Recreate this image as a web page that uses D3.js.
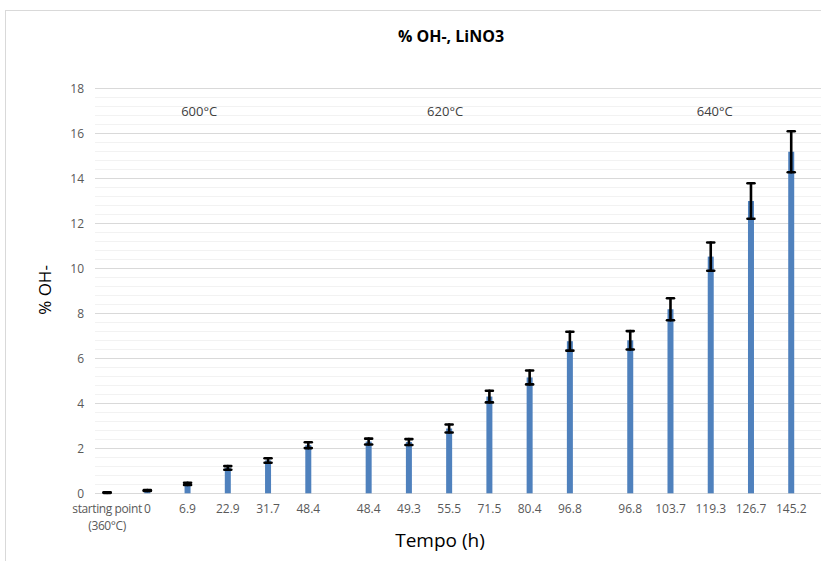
<!DOCTYPE html>
<html>
<head>
<meta charset="utf-8">
<script src="https://cdn.jsdelivr.net/npm/d3@7"></script>
<style>
  html, body { margin: 0; padding: 0; background: #fff; }
  svg { display: block; }
  text { font-family: "Open Sans", "DejaVu Sans", sans-serif; }
</style>
</head>
<body>
<svg id="chart" width="821" height="561"></svg>
<script>
// Sampling times (h), grouped by annealing temperature
const groups = ["600°C", "620°C", "640°C"];
const categories = [
  ["starting point\n(360°C)", "0", "6.9", "22.9", "31.7", "48.4"],
  ["48.4", "49.3", "55.5", "71.5", "80.4", "96.8"],
  ["96.8", "103.7", "119.3", "126.7", "145.2"]
];
// % OH- per sample
const values = [
  [0.03, 0.12, 0.42, 1.13, 1.46, 2.14],
  [2.30, 2.28, 2.88, 4.30, 5.15, 6.76],
  [6.80, 8.18, 10.52, 12.99, 15.18]
];
// Error (±) per sample
const errors = [
  [0.01, 0.02, 0.05, 0.08, 0.10, 0.13],
  [0.13, 0.13, 0.18, 0.26, 0.31, 0.42],
  [0.41, 0.49, 0.63, 0.79, 0.91]
];
const yTicks = [0, 2, 4, 6, 8, 10, 12, 14, 16, 18];

// Flatten into points; groups are separated by an extra half slot
const points = [];
categories.forEach((cats, g) => {
  cats.forEach((c, i) => {
    points.push({ group: g, label: c, value: values[g][i], err: errors[g][i],
                  slot: points.length + g * 0.5 });
  });
});

const svg = d3.select("#chart");
const plot = { left: 95, right: 821, top: 88.3, bottom: 493.3 };

const x = d3.scaleLinear().domain([-0.3, 17.74]).range([plot.left, plot.right]);
const y = d3.scaleLinear().domain([0, 18]).range([plot.bottom, plot.top]);

// Chart frame
svg.append("rect")
  .attr("x", 5.5).attr("y", 10.5).attr("width", 900).attr("height", 700)
  .attr("fill", "#fff").attr("stroke", "#d9d9d9").attr("stroke-width", 1);

// Minor gridlines every 0.4
const minor = d3.range(0, 18.001, 0.4).filter(v => Math.abs(v / 2 - Math.round(v / 2)) > 1e-6);
svg.append("g").selectAll("line").data(minor).join("line")
  .attr("x1", plot.left).attr("x2", plot.right)
  .attr("y1", d => Math.round(y(d)) + 0.5).attr("y2", d => Math.round(y(d)) + 0.5)
  .attr("stroke", "#f2f2f2").attr("stroke-width", 1);

// Major gridlines
svg.append("g").selectAll("line").data(yTicks).join("line")
  .attr("x1", plot.left).attr("x2", plot.right)
  .attr("y1", d => Math.round(y(d)) + 0.5).attr("y2", d => Math.round(y(d)) + 0.5)
  .attr("stroke", "#d9d9d9").attr("stroke-width", 1);

// Y axis labels
const yAxis = d3.axisLeft(y).tickValues(yTicks).tickSize(0).tickPadding(11);
const gy = svg.append("g").attr("transform", `translate(${plot.left},0)`).call(yAxis);
gy.select(".domain").remove();
gy.selectAll("text").attr("fill", "#595959").style("font-size", "12px")
  .style("font-family", "\"Open Sans\", \"DejaVu Sans\", sans-serif");

// Bars
svg.append("g").selectAll("rect").data(points).join("rect")
  .attr("x", d => x(d.slot) - 3)
  .attr("width", 6)
  .attr("y", d => y(d.value))
  .attr("height", d => y(0) - y(d.value))
  .attr("fill", "#4f81bd");

// Error bars
const eb = svg.append("g").attr("stroke", "#000").attr("stroke-linecap", "round")
  .selectAll("g").data(points).join("g");
eb.append("line")
  .attr("x1", d => x(d.slot)).attr("x2", d => x(d.slot))
  .attr("y1", d => y(d.value + d.err)).attr("y2", d => y(d.value - d.err))
  .attr("stroke-width", 2.6);
eb.append("line")
  .attr("x1", d => x(d.slot) - 3.5).attr("x2", d => x(d.slot) + 3.5)
  .attr("y1", d => y(d.value + d.err)).attr("y2", d => y(d.value + d.err))
  .attr("stroke-width", 2.6);
eb.append("line")
  .attr("x1", d => x(d.slot) - 3.5).attr("x2", d => x(d.slot) + 3.5)
  .attr("y1", d => y(d.value - d.err)).attr("y2", d => y(d.value - d.err))
  .attr("stroke-width", 2.6);

// Category labels
const cl = svg.append("g").selectAll("text").data(points).join("text")
  .attr("x", d => x(d.slot)).attr("y", 513)
  .attr("text-anchor", "middle").attr("fill", "#595959").style("font-size", "12px");
cl.each(function(d) {
  const lines = d.label.split("\n");
  d3.select(this).selectAll("tspan").data(lines).join("tspan")
    .attr("x", x(d.slot))
    .attr("dy", (l, i) => i === 0 ? 0 : 17)
    .style("letter-spacing", lines.length > 1 ? "-0.4px" : null)
    .text(l => l);
});

// Temperature labels placed along the category axis
const groupLabelSlot = [2.29, 8.4, 15.1];
groups.forEach((g, gi) => {
  svg.append("text").attr("x", x(groupLabelSlot[gi])).attr("y", y(17) + 5)
    .attr("text-anchor", "middle").attr("fill", "#404040").style("font-size", "13px")
    .text(g);
});

// Titles
svg.append("text").attr("x", 451).attr("y", 42).attr("text-anchor", "middle")
  .attr("fill", "#000").style("font-size", "16px").style("font-weight", "bold")
  .text("% OH-, LiNO3");
svg.append("text").attr("x", 440).attr("y", 547).attr("text-anchor", "middle")
  .attr("fill", "#000").style("font-size", "19px").text("Tempo (h)");
svg.append("text").attr("transform", "translate(51,290) rotate(-90)")
  .attr("text-anchor", "middle").attr("fill", "#000").style("font-size", "17px")
  .text("% OH-");
</script>
</body>
</html>
